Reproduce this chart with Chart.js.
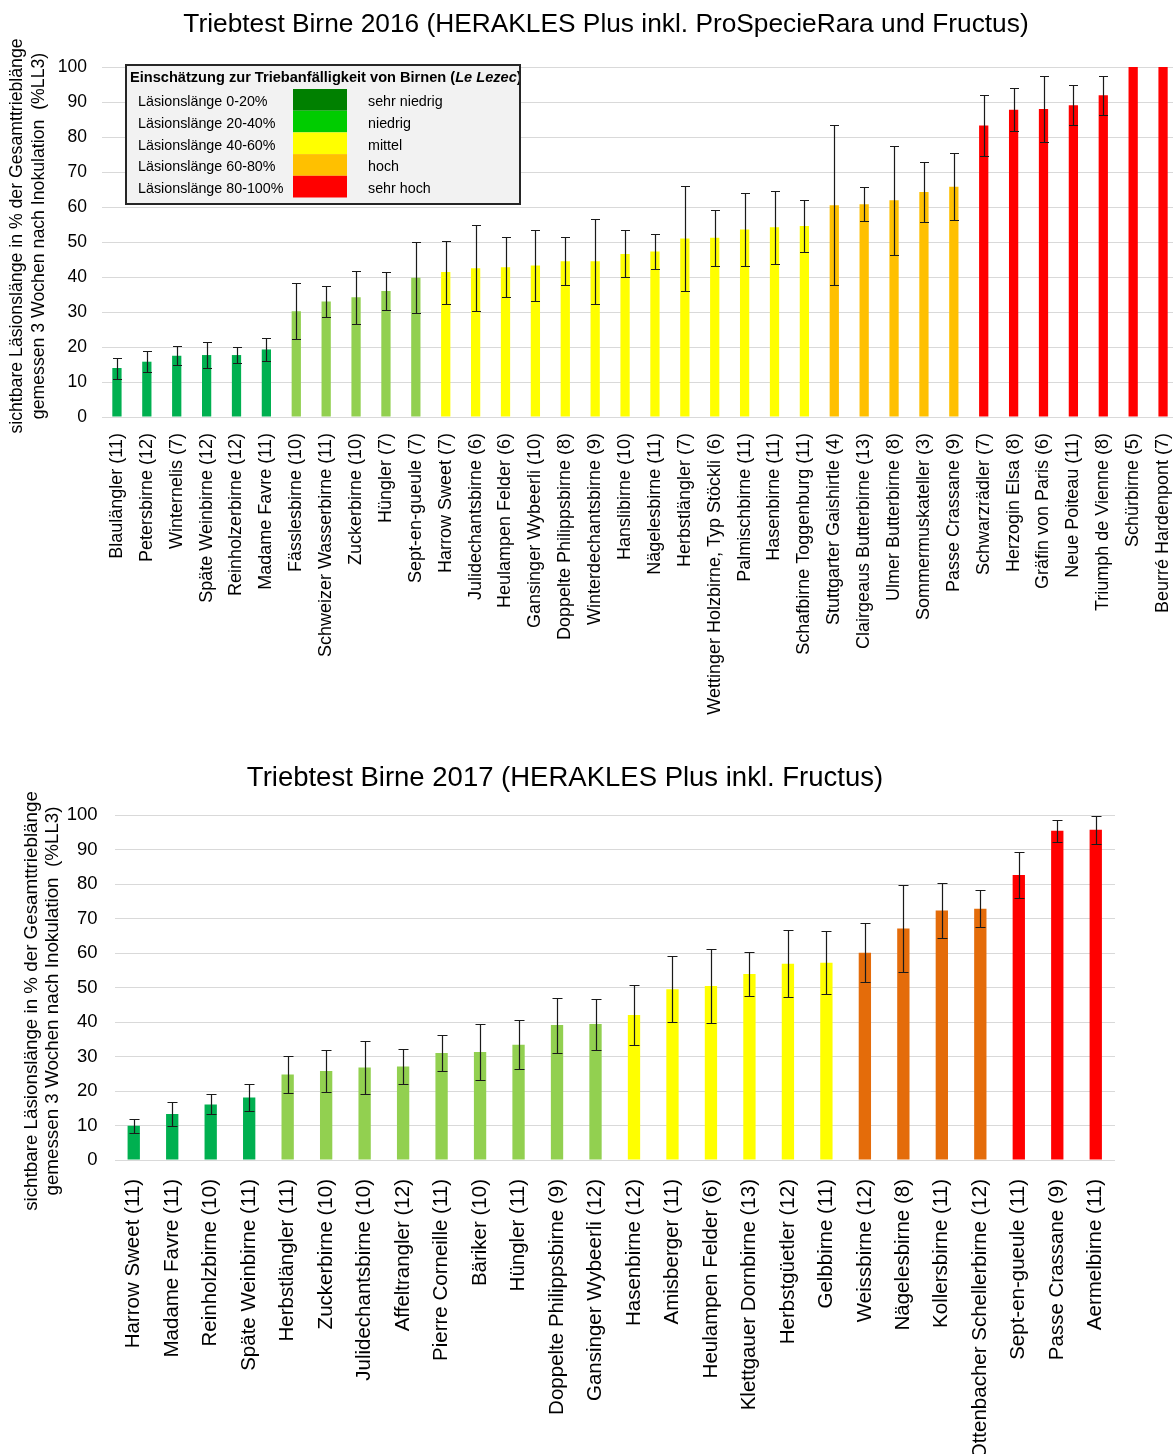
<!DOCTYPE html>
<html lang="de">
<head>
<meta charset="utf-8">
<title>Triebtest Birne 2016 / 2017</title>
<script src="https://cdn.jsdelivr.net/npm/chart.js@4.4.1/dist/chart.umd.min.js"></script>
<style>
  html, body { margin: 0; padding: 0; overflow: hidden; background: #fff; width: 1173px; height: 1454px; }
  canvas { position: absolute; left: 0; }
  #chart2016 { top: 0; }
  #chart2017 { top: 745px; }
</style>
</head>
<body>
<canvas id="chart2016" width="1180" height="745"></canvas>
<canvas id="chart2017" width="1173" height="709"></canvas>
<script>
// ---------- 2016 ----------
const sorten2016 = [
  'Blaulängler (11)', 'Petersbirne (12)', 'Winternelis (7)', 'Späte Weinbirne (12)',
  'Reinholzerbirne (12)', 'Madame Favre (11)', 'Fässlesbirne (10)', 'Schweizer Wasserbirne (11)',
  'Zuckerbirne (10)', 'Hüngler (7)', 'Sept-en-gueule (7)', 'Harrow Sweet (7)',
  'Julidechantsbirne (6)', 'Heulampen Felder (6)', 'Gansinger Wybeerli (10)', 'Doppelte Philippsbirne (8)',
  'Winterdechantsbirne (9)', 'Hanslibirne (10)', 'Nägelesbirne (11)', 'Herbstlängler (7)',
  'Wettinger Holzbirne, Typ Stöckli (6)', 'Palmischbirne (11)', 'Hasenbirne (11)', 'Schafbirne Toggenburg (11)',
  'Stuttgarter Gaishirtle (4)', 'Clairgeaus Butterbirne (13)', 'Ulmer Butterbirne (8)', 'Sommermuskateller (3)',
  'Passe Crassane (9)', 'Schwarzrädler (7)', 'Herzogin Elsa (8)', 'Gräfin von Paris (6)',
  'Neue Poiteau (11)', 'Triumph de Vienne (8)', 'Schürbirne (5)', 'Beurré Hardenpont (7)'
];
const ll3_2016 = [
  14.0, 15.8, 17.5, 17.7, 17.7, 19.3, 30.2, 33.0, 34.2, 36.0, 39.8, 41.4,
  42.5, 42.8, 43.3, 44.5, 44.5, 46.6, 47.3, 51.0, 51.2, 53.6, 54.2, 54.6,
  60.5, 60.8, 61.9, 64.3, 65.8, 83.3, 87.8, 88.0, 89.1, 91.9, 100, 100
];
const fehler2016 = [
  3.0, 3.0, 2.7, 3.7, 2.4, 3.2, 8.0, 4.3, 7.5, 5.3, 10.1, 9.0,
  12.3, 8.6, 10.2, 6.8, 12.1, 6.7, 5.0, 15.0, 8.0, 10.4, 10.4, 7.5,
  22.8, 4.8, 15.5, 8.5, 9.5, 8.8, 6.1, 9.4, 5.7, 5.6, 0, 0
];

// ---------- 2017 ----------
const sorten2017 = [
  'Harrow Sweet (11)', 'Madame Favre (11)', 'Reinholzbirne (10)', 'Späte Weinbirne (11)',
  'Herbstlängler (11)', 'Zuckerbirne (10)', 'Julidechantsbirne (10)', 'Affeltrangler (12)',
  'Pierre Corneille (11)', 'Bäriker (10)', 'Hüngler (11)', 'Doppelte Philippsbirne (9)',
  'Gansinger Wybeerli (12)', 'Hasenbirne (12)', 'Amisberger (11)', 'Heulampen Felder (6)',
  'Klettgauer Dornbirne (13)', 'Herbstgüetler (12)', 'Gelbbirne (11)', 'Weissbirne (12)',
  'Nägelesbirne (8)', 'Kollersbirne (11)', 'Ottenbacher Schellerbirne (12)', 'Sept-en-gueule (11)',
  'Passe Crassane (9)', 'Aermelbirne (11)'
];
const ll3_2017 = [
  9.9, 13.3, 16.1, 18.1, 24.8, 25.8, 26.8, 27.1, 31.0, 31.3, 33.4, 39.1, 39.4,
  42.0, 49.5, 50.4, 53.9, 56.9, 57.2, 60.1, 67.1, 72.3, 72.8, 82.6, 95.4, 95.7
];
const fehler2017 = [
  2.1, 3.4, 2.9, 3.9, 5.3, 6.1, 7.6, 5.0, 5.2, 8.0, 7.1, 8.0, 7.4,
  8.8, 9.6, 10.8, 6.5, 9.7, 9.1, 8.5, 12.6, 8.0, 5.4, 6.7, 3.1, 4.0
];

// ---------- Einschätzung (Le Lezec) ----------
const klassenGrenzen = [20, 40, 60, 80];
const klassenText = ['Läsionslänge 0-20%', 'Läsionslänge 20-40%', 'Läsionslänge 40-60%', 'Läsionslänge 60-80%', 'Läsionslänge 80-100%'];
const klassenStufe = ['sehr niedrig', 'niedrig', 'mittel', 'hoch', 'sehr hoch'];
const klassenFarbenLegende = ['#008000', '#00CC00', '#FFFF00', '#FFC000', '#FF0000'];
const balkenFarben2016 = ['#00B050', '#92D050', '#FFFF00', '#FFC000', '#FF0000'];
const balkenFarben2017 = ['#00B050', '#92D050', '#FFFF00', '#E46C0A', '#FF0000'];
const legendenTitel = ['Einschätzung zur Triebanfälligkeit von Birnen (', 'Le Lezec', ')'];

const titel2016 = 'Triebtest Birne 2016 (HERAKLES Plus inkl. ProSpecieRara und Fructus)';
const titel2017 = 'Triebtest Birne 2017 (HERAKLES Plus inkl. Fructus)';
const yTitel = ['sichtbare Läsionslänge in % der Gesamttrieblänge', 'gemessen 3 Wochen nach Inokulation  (%LL3)'];

const FONT = '"Liberation Sans", Arial, sans-serif';

function klasse(v) {
  let k = 0;
  while (k < klassenGrenzen.length && v >= klassenGrenzen[k]) k++;
  return k;
}

// Error bars (± standard error) drawn from the y scale
const errorBars = {
  id: 'errorBars',
  afterDatasetsDraw(chart, args, o) {
    const { ctx } = chart;
    const ys = chart.scales.y;
    const ds = chart.data.datasets[0];
    const meta = chart.getDatasetMeta(0);
    ctx.save();
    ctx.strokeStyle = o.color;
    ctx.lineWidth = o.width;
    meta.data.forEach((bar, i) => {
      const e = ds.errors[i];
      if (!e) return;
      const v = ds.data[i];
      const yt = Math.round(ys.getPixelForValue(Math.min(v + e, ys.max))) + 0.5;
      const yb = Math.round(ys.getPixelForValue(Math.max(v - e, ys.min))) + 0.5;
      const x = Math.round(bar.x) + 0.5;
      const c = o.cap / 2;
      ctx.beginPath();
      ctx.moveTo(x, yt); ctx.lineTo(x, yb);
      ctx.moveTo(x - c, yt); ctx.lineTo(x + c, yt);
      ctx.moveTo(x - c, yb); ctx.lineTo(x + c, yb);
      ctx.stroke();
    });
    ctx.restore();
  }
};

// Chart title and two-line y-axis title
const texts = {
  id: 'texts',
  afterDraw(chart, args, o) {
    const { ctx } = chart;
    ctx.save();
    ctx.fillStyle = '#000';
    ctx.textAlign = 'center';
    ctx.textBaseline = 'middle';
    ctx.font = o.titleFont;
    ctx.fillText(o.title, o.titleX, o.titleY);
    ctx.font = o.axisFont;
    o.axisLines.forEach((line, k) => {
      ctx.save();
      ctx.translate(o.axisX[k], o.axisY);
      ctx.rotate(-Math.PI / 2);
      ctx.fillText(line, 0, 0);
      ctx.restore();
    });
    ctx.restore();
  }
};

// Rating key box (Le Lezec classes)
const ratingKey = {
  id: 'ratingKey',
  afterDraw(chart, args, o) {
    if (!o.show) return;
    const { ctx } = chart;
    const { x, y, w, h } = o;
    ctx.save();
    ctx.fillStyle = '#F2F2F2';
    ctx.fillRect(x, y, w, h);
    ctx.lineWidth = 2;
    ctx.strokeStyle = '#262626';
    ctx.strokeRect(x, y, w, h);
    ctx.beginPath();
    ctx.rect(x, y, w - 1, h);
    ctx.clip();
    ctx.fillStyle = '#000';
    ctx.textAlign = 'left';
    ctx.textBaseline = 'middle';
    let tx = x + 4;
    const hy = y + 12.5;
    const fonts = ['bold 14.6px ' + FONT, 'italic bold 14.6px ' + FONT, 'bold 14.6px ' + FONT];
    legendenTitel.forEach((part, k) => {
      ctx.font = fonts[k];
      ctx.fillText(part, tx, hy);
      tx += ctx.measureText(part).width;
    });
    ctx.font = '14.3px ' + FONT;
    klassenText.forEach((t, i) => {
      const ry = y + 24 + i * o.rowH;
      ctx.fillStyle = klassenFarbenLegende[i];
      ctx.fillRect(x + 167, ry, 54, o.rowH);
      ctx.fillStyle = '#000';
      ctx.fillText(t, x + 12, ry + o.rowH / 2 + 2.5);
      ctx.fillText(klassenStufe[i], x + 242, ry + o.rowH / 2 + 2.5);
    });
    ctx.restore();
  }
};

function makeChart(id, cfg) {
  return new Chart(document.getElementById(id), {
    type: 'bar',
    data: {
      labels: cfg.labels,
      datasets: [{
        data: cfg.values,
        errors: cfg.errors,
        backgroundColor: cfg.values.map(v => cfg.palette[klasse(v)]),
        borderWidth: 0,
        categoryPercentage: 1,
        barPercentage: cfg.barPct
      }]
    },
    options: {
      responsive: false,
      devicePixelRatio: 1,
      animation: false,
      events: [],
      layout: { padding: cfg.padding },
      scales: {
        x: {
          grid: { display: false },
          border: { display: false },
          ticks: {
            autoSkip: false, maxRotation: 90, minRotation: 90,
            padding: cfg.xPad, color: '#000',
            font: { family: FONT, size: cfg.xFont }
          },
          afterFit(s) {
            s.height = cfg.xHeight;
            s.paddingLeft = 0;
            s.paddingRight = 0;
          }
        },
        y: {
          min: 0, max: 100,
          grid: { color: '#D9D9D9', lineWidth: 1, drawTicks: false },
          border: { display: false },
          ticks: {
            stepSize: 10, padding: cfg.yPad, color: '#000',
            font: { family: FONT, size: cfg.yFont }
          },
          afterFit(s) { s.width = cfg.yWidth; }
        }
      },
      plugins: {
        legend: { display: false },
        tooltip: { enabled: false },
        errorBars: { color: '#1A1A1A', width: 1.2, cap: cfg.cap },
        texts: cfg.texts,
        ratingKey: cfg.key
      }
    },
    plugins: [errorBars, texts, ratingKey]
  });
}

makeChart('chart2016', {
  labels: sorten2016, values: ll3_2016, errors: fehler2016, palette: balkenFarben2016,
  barPct: 0.31, padding: { top: 67, right: 2, left: 0, bottom: 0 },
  xHeight: 328, xPad: 8, xFont: 18, yWidth: 102, yPad: 15, yFont: 17.5, cap: 9,
  texts: {
    title: titel2016, titleFont: '26.3px ' + FONT, titleX: 606, titleY: 25,
    axisLines: yTitel, axisFont: '17.7px ' + FONT, axisX: [17, 39], axisY: 236
  },
  key: { show: true, x: 126, y: 65, w: 394, h: 139, rowH: 21.7 }
});

makeChart('chart2017', {
  labels: sorten2017, values: ll3_2017, errors: fehler2017, palette: balkenFarben2017,
  barPct: 0.32, padding: { top: 70, right: 58, left: 0, bottom: 0 },
  xHeight: 294, xPad: 11, xFont: 20.5, yWidth: 114.5, yPad: 17, yFont: 18.5, cap: 10,
  texts: {
    title: titel2017, titleFont: '27.5px ' + FONT, titleX: 565, titleY: 33,
    axisLines: yTitel, axisFont: '18.8px ' + FONT, axisX: [32, 53], axisY: 256
  },
  key: { show: false }
});
</script>
</body>
</html>
